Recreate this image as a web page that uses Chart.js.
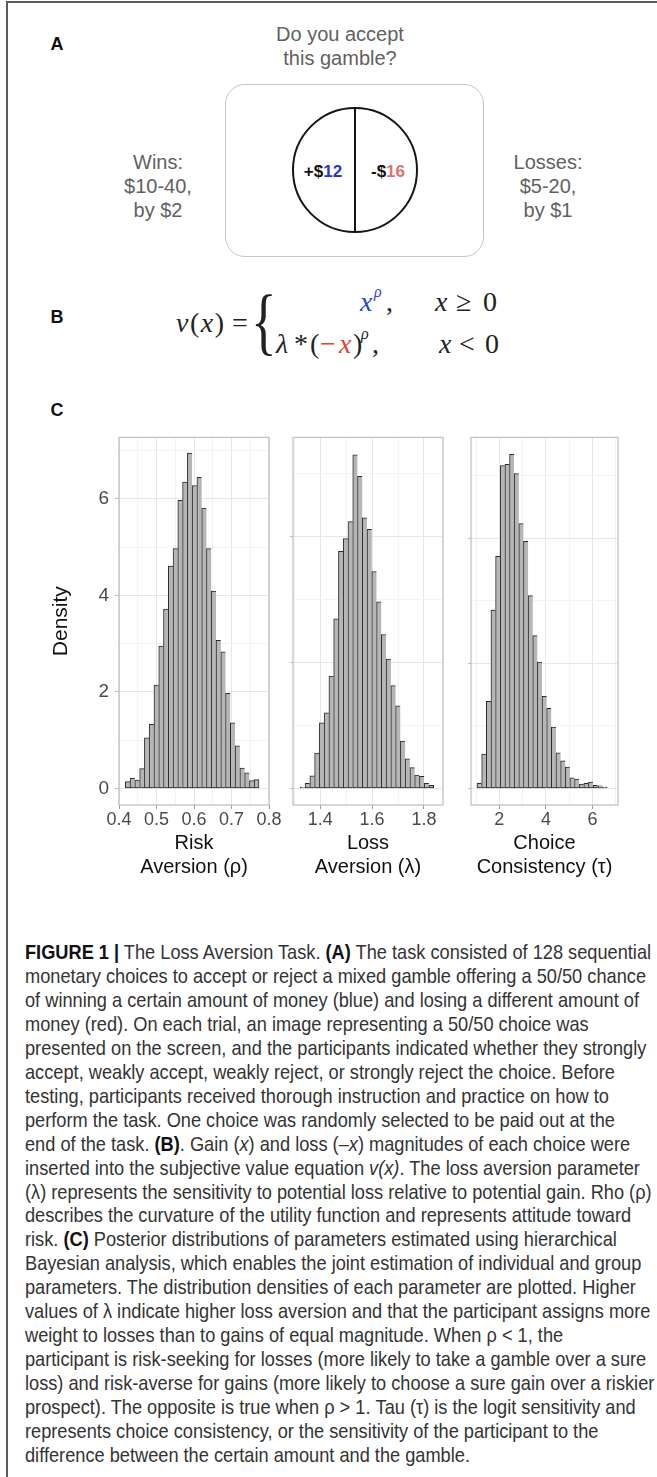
<!DOCTYPE html>
<html>
<head>
<meta charset="utf-8">
<script src="https://cdn.jsdelivr.net/npm/chart.js@4.4.1/dist/chart.umd.min.js"></script>
<style>
html,body{margin:0;padding:0;background:#fff;}
body{width:657px;height:1477px;position:relative;overflow:hidden;font-family:"Liberation Sans",Arial,sans-serif;}
.abs{position:absolute;white-space:nowrap;}
.cc{transform:translate(-50%,-50%);text-align:center;}
.lbl{font-weight:bold;font-size:18px;color:#111;}
.gray{color:#616161;font-size:20px;line-height:24px;}
.eq{position:absolute;white-space:nowrap;font-family:"Liberation Serif","Times New Roman",serif;color:#222;font-size:28px;line-height:32px;transform:translateY(-50%);}
.eq.it{font-style:italic;}
.sup{font-size:16px;font-style:italic;}
.blue{color:#2c3fd6;}
.red{color:#e0452d;}
.cap{font-family:"Liberation Sans Narrow","Liberation Sans",Arial,sans-serif;font-size:21px;color:#333;line-height:24px;height:24px;}
.cap b{color:#111;}
canvas{position:absolute;}
</style>
</head>
<body>
<div class="abs" style="left:6px;top:1px;width:660px;height:1490px;border-left:2px solid #5a5a5a;border-top:2px solid #5a5a5a;"></div>

<!-- Panel A -->
<div class="abs lbl cc" style="left:57px;top:44px;">A</div>
<div class="abs gray cc" style="left:340px;top:46px;">Do you accept<br>this gamble?</div>
<div class="abs" style="left:225px;top:84px;width:259px;height:173px;box-sizing:border-box;border:1.3px solid #c6c6c6;border-radius:20px;"></div>
<div class="abs" style="left:292px;top:107px;width:126px;height:126px;box-sizing:border-box;border:2px solid #151515;border-radius:50%;"></div>
<div class="abs" style="left:354px;top:107px;width:2px;height:126px;background:#151515;"></div>
<div class="abs cc" style="left:323px;top:172px;font-weight:bold;font-size:17px;color:#111;">+$<span style="color:#2238d0">12</span></div>
<div class="abs cc" style="left:388px;top:172px;font-weight:bold;font-size:17px;color:#111;">-$<span style="color:#e07070">16</span></div>
<div class="abs gray cc" style="left:158px;top:186px;">Wins:<br>$10-40,<br>by $2</div>
<div class="abs gray cc" style="left:548px;top:186px;">Losses:<br>$5-20,<br>by $1</div>

<!-- Panel B -->
<div class="abs lbl cc" style="left:57px;top:317px;">B</div>
<div class="eq" style="left:176px;top:323px;letter-spacing:1.5px;"><i>v</i>(<i>x</i>)</div>
<div class="eq" style="left:232px;top:323px;">=</div>
<div class="eq" style="left:251px;top:321px;transform:translateY(-50%) scaleX(0.72);transform-origin:left center;font-size:74px;line-height:74px;">{</div>
<!-- row 1 -->
<div class="eq it blue" style="left:360px;top:302px;">x</div>
<div class="eq sup blue" style="left:374px;top:292px;">ρ</div>
<div class="eq" style="left:386px;top:302px;">,</div>
<div class="eq it" style="left:435px;top:302px;">x</div>
<div class="eq" style="left:456px;top:302px;">≥</div>
<div class="eq" style="left:483px;top:302px;">0</div>
<!-- row 2 -->
<div class="eq it" style="left:276px;top:344px;">λ</div>
<div class="eq" style="left:294px;top:344px;">*</div>
<div class="eq" style="left:310px;top:344px;">(</div>
<div class="eq red" style="left:320px;top:344px;">−</div>
<div class="eq it red" style="left:339px;top:344px;">x</div>
<div class="eq" style="left:353px;top:344px;">)</div>
<div class="eq sup" style="left:361px;top:334px;">ρ</div>
<div class="eq" style="left:372px;top:344px;">,</div>
<div class="eq it" style="left:439px;top:344px;">x</div>
<div class="eq" style="left:459px;top:344px;">&lt;</div>
<div class="eq" style="left:485px;top:344px;">0</div>

<!-- Panel C -->
<div class="abs lbl cc" style="left:57px;top:410px;">C</div>
<canvas id="c1" width="290" height="480" style="left:0px;top:420px;"></canvas>
<canvas id="c2" width="180" height="480" style="left:280px;top:420px;"></canvas>
<canvas id="c3" width="199" height="480" style="left:458px;top:420px;"></canvas>

<!-- Caption -->
<div id="caption">
<div class="abs cap"><b>FIGURE 1 |</b> The Loss Aversion Task. <b>(A)</b> The task consisted of 128 sequential</div>
<div class="abs cap">monetary choices to accept or reject a mixed gamble offering a 50/50 chance</div>
<div class="abs cap">of winning a certain amount of money (blue) and losing a different amount of</div>
<div class="abs cap">money (red). On each trial, an image representing a 50/50 choice was</div>
<div class="abs cap">presented on the screen, and the participants indicated whether they strongly</div>
<div class="abs cap">accept, weakly accept, weakly reject, or strongly reject the choice. Before</div>
<div class="abs cap">testing, participants received thorough instruction and practice on how to</div>
<div class="abs cap">perform the task. One choice was randomly selected to be paid out at the</div>
<div class="abs cap">end of the task. <b>(B)</b>. Gain (<i>x</i>) and loss (–<i>x</i>) magnitudes of each choice were</div>
<div class="abs cap">inserted into the subjective value equation <i>v(x)</i>. The loss aversion parameter</div>
<div class="abs cap">(λ) represents the sensitivity to potential loss relative to potential gain. Rho (ρ)</div>
<div class="abs cap">describes the curvature of the utility function and represents attitude toward</div>
<div class="abs cap">risk. <b>(C)</b> Posterior distributions of parameters estimated using hierarchical</div>
<div class="abs cap">Bayesian analysis, which enables the joint estimation of individual and group</div>
<div class="abs cap">parameters. The distribution densities of each parameter are plotted. Higher</div>
<div class="abs cap">values of λ indicate higher loss aversion and that the participant assigns more</div>
<div class="abs cap">weight to losses than to gains of equal magnitude. When ρ &lt; 1, the</div>
<div class="abs cap">participant is risk-seeking for losses (more likely to take a gamble over a sure</div>
<div class="abs cap">loss) and risk-averse for gains (more likely to choose a sure gain over a riskier</div>
<div class="abs cap">prospect). The opposite is true when ρ &gt; 1. Tau (τ) is the logit sensitivity and</div>
<div class="abs cap">represents choice consistency, or the sensitivity of the participant to the</div>
<div class="abs cap">difference between the certain amount and the gamble.</div>
</div>

<script>
// ---------- Data ----------
const rhoBins = [0.4232, 0.4359, 0.4486, 0.4614, 0.4741, 0.4868, 0.4996, 0.5123, 0.5250, 0.5378,
                 0.5505, 0.5632, 0.5759, 0.5887, 0.6014, 0.6141, 0.6269, 0.6396, 0.6523, 0.6651,
                 0.6778, 0.6905, 0.7032, 0.7160, 0.7287, 0.7414, 0.7542, 0.7669];
const rhoDensity = [0.14, 0.21, 0.17, 0.41, 1.05, 1.33, 2.14, 2.95, 3.72, 4.61,
                    4.97, 5.97, 6.35, 6.95, 6.28, 6.45, 5.81, 4.97, 4.09, 3.07,
                    2.83, 1.97, 1.36, 0.88, 0.42, 0.32, 0.16, 0.18];

const lambdaBins = [1.3320, 1.3504, 1.3688, 1.3872, 1.4056, 1.4240, 1.4424, 1.4608, 1.4792, 1.4976,
                    1.5160, 1.5344, 1.5528, 1.5712, 1.5896, 1.6080, 1.6264, 1.6448, 1.6632, 1.6815,
                    1.6999, 1.7183, 1.7367, 1.7551, 1.7735, 1.7919, 1.8103, 1.8287];
const lambdaDensity = [0.02, 0.08, 0.20, 0.56, 1.04, 1.20, 1.78, 2.69, 3.76, 3.96,
                       4.23, 5.29, 4.95, 4.29, 4.11, 3.44, 2.96, 2.44, 2.05, 1.63,
                       1.31, 0.75, 0.47, 0.33, 0.21, 0.19, 0.08, 0.05];

const tauBins = [1.139, 1.339, 1.538, 1.738, 1.937, 2.137, 2.337, 2.536, 2.736, 2.935,
                 3.135, 3.335, 3.534, 3.734, 3.933, 4.133, 4.333, 4.532, 4.732, 4.931,
                 5.131, 5.331, 5.530, 5.730, 5.929, 6.129, 6.329, 6.529];
const tauDensity = [0.008, 0.055, 0.139, 0.285, 0.371, 0.516, 0.518, 0.534, 0.503, 0.423,
                    0.395, 0.308, 0.244, 0.202, 0.147, 0.128, 0.098, 0.057, 0.044, 0.034,
                    0.017, 0.015, 0.007, 0.008, 0.010, 0.005, 0.004, 0.002];

const yTickLabels = ['0', '2', '4', '6'];
const xTitles = [['Risk', 'Aversion (ρ)'], ['Loss', 'Aversion (λ)'], ['Choice', 'Consistency (τ)']];
const yTitle = 'Density';

// ---------- Chart setup ----------
Chart.defaults.font.family = "'Liberation Sans', Arial, sans-serif";
Chart.defaults.animation = false;

function isMajor(v, step) { const r = v / step; return Math.abs(r - Math.round(r)) < 1e-6; }

const boxPlugin = {
  id: 'panelBox',
  afterDraw(chart) {
    const a = chart.chartArea, c = chart.ctx;
    c.save();
    c.strokeStyle = '#c2c2c2';
    c.lineWidth = 1.3;
    c.strokeRect(a.left, a.top, a.right - a.left, a.bottom - a.top);
    c.restore();
  }
};

function makePanel(id, bins, dens, o) {
  const last = bins.length - 1;
  return new Chart(document.getElementById(id), {
    type: 'bar',
    data: {
      datasets: [{
        data: bins.map((x, i) => ({ x: x, y: dens[i] })),
        backgroundColor: '#b6b6b6',
        borderColor: '#2a2a2a',
        borderWidth: ctx => ({ left: 1, top: 1, bottom: 1, right: ctx.dataIndex === last ? 1 : 0 }),
        borderSkipped: false,
        barPercentage: 1,
        categoryPercentage: 1
      }]
    },
    options: {
      responsive: false,
      animation: false,
      layout: { padding: { top: 9, right: o.padRight, left: 0, bottom: 0 } },
      plugins: { legend: { display: false }, tooltip: { enabled: false } },
      scales: {
        x: {
          type: 'linear', min: o.xmin, max: o.xmax, offset: false,
          afterFit: s => { s.height = 95; },
          ticks: {
            stepSize: o.xstep, includeBounds: false, autoSkip: false, maxRotation: 0, minRotation: 0,
            color: '#4a4a4a', font: { size: 18 }, padding: 0,
            callback: v => isMajor(v, o.xmajor) ? o.xfmt(v) : ''
          },
          grid: {
            offset: false,
            color: ctx => (ctx.tick && isMajor(ctx.tick.value, o.xmajor)) ? '#e6e6e6' : '#f3f3f3',
            tickColor: ctx => (ctx.tick && isMajor(ctx.tick.value, o.xmajor)) ? '#9a9a9a' : 'rgba(0,0,0,0)',
            tickLength: 4, lineWidth: 1
          },
          border: { display: false },
          title: {
            display: true, text: o.xtitle, color: '#111',
            font: { size: 20, lineHeight: 1.2 }, padding: { top: 0, bottom: 21 }
          }
        },
        y: {
          min: o.ymin, max: o.ymax,
          afterFit: s => { s.width = o.yWidth; },
          ticks: {
            stepSize: o.ystep, includeBounds: false, autoSkip: false,
            color: '#4a4a4a', font: { size: 19 }, padding: 6,
            callback: v => (o.showY && isMajor(v, o.ymajor)) ? yTickLabels[Math.round(v / o.ymajor)] : ''
          },
          grid: {
            color: ctx => (ctx.tick && isMajor(ctx.tick.value, o.ymajor)) ? '#e6e6e6' : '#f3f3f3',
            tickColor: ctx => (ctx.tick && isMajor(ctx.tick.value, o.ymajor)) ? '#bdbdbd' : 'rgba(0,0,0,0)',
            tickLength: o.showY ? 4 : 3, lineWidth: 1
          },
          border: { display: false },
          title: o.showY ? {
            display: true, text: yTitle, color: '#111',
            font: { size: 21, lineHeight: 1.2 }, padding: { top: 49, bottom: 0 }
          } : { display: false }
        }
      }
    },
    plugins: [boxPlugin]
  });
}

makePanel('c1', rhoBins, rhoDensity, {
  padRight: 21, yWidth: 119, showY: true,
  xmin: 0.4, xmax: 0.8, xstep: 0.05, xmajor: 0.1, xfmt: v => v.toFixed(1),
  ymin: -0.3446, ymax: 7.277, ystep: 1, ymajor: 2,
  xtitle: xTitles[0]
});
makePanel('c2', lambdaBins, lambdaDensity, {
  padRight: 17, yWidth: 13, showY: false,
  xmin: 1.2946, xmax: 1.8737, xstep: 0.1, xmajor: 0.2, xfmt: v => v.toFixed(1),
  ymin: -0.2636, ymax: 5.566, ystep: 1, ymajor: 2,
  xtitle: xTitles[1]
});
makePanel('c3', tauBins, tauDensity, {
  padRight: 39, yWidth: 13, showY: false,
  xmin: 0.78, xmax: 7.10, xstep: 1, xmajor: 2, xfmt: v => String(Math.round(v)),
  ymin: -0.02656, ymax: 0.5609, ystep: 0.1, ymajor: 0.2,
  xtitle: xTitles[2]
});

// ---------- Caption layout ----------
(function () {
  const lines = document.querySelectorAll('#caption .cap');
  const w2 = lines[1].getBoundingClientRect().width;
  const k = 621 / w2;
  lines.forEach((el, i) => {
    el.style.left = '25px';
    el.style.top = (940 + i * 23.95) + 'px';
    el.style.transformOrigin = 'left center';
    el.style.transform = 'scaleX(' + k.toFixed(4) + ')';
  });
})();
</script>
</body>
</html>
